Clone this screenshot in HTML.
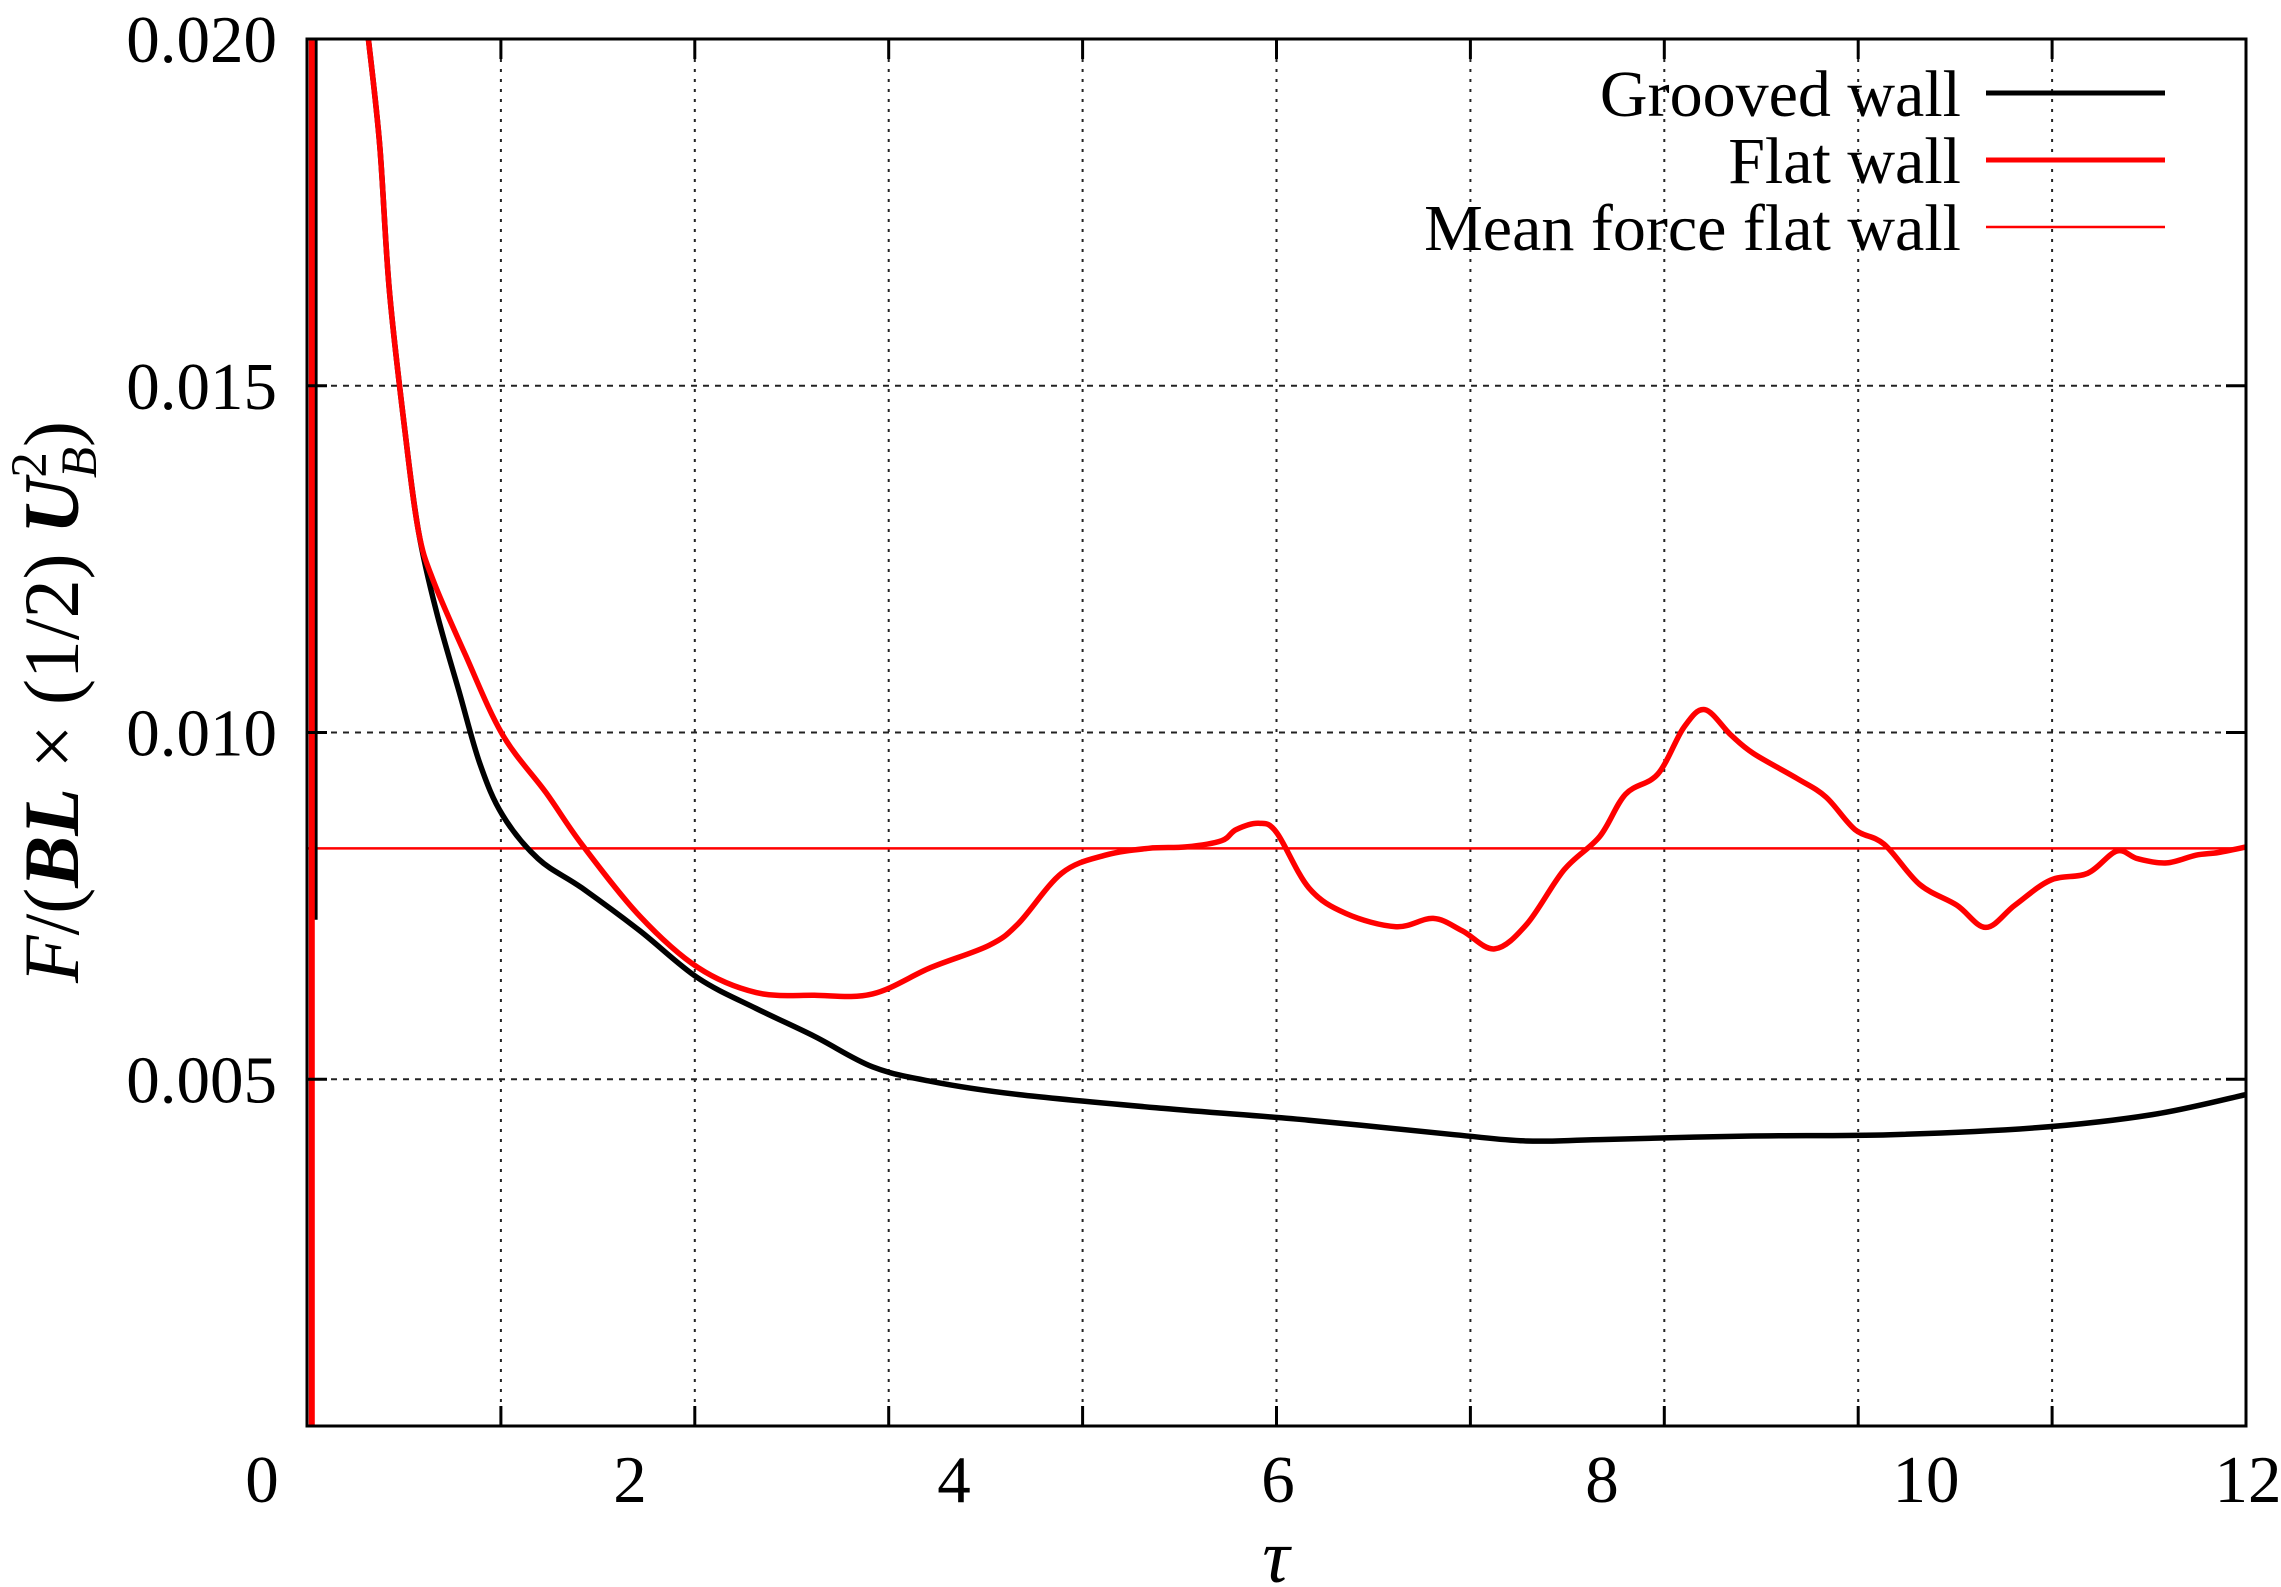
<!DOCTYPE html>
<html><head><meta charset="utf-8"><style>
html,body{margin:0;padding:0;background:#fff;}
svg{display:block;font-family:"Liberation Serif",serif;}
</style></head><body>
<svg id="chart" width="2281" height="1587" viewBox="0 0 2281 1587" xmlns="http://www.w3.org/2000/svg">
<defs><clipPath id="clip"><rect x="307" y="39" width="1939" height="1387"/></clipPath></defs>
<g id="grid"></g>
<g id="series" clip-path="url(#clip)"></g>
<rect x="307" y="39" width="1939" height="1387" fill="none" stroke="#000" stroke-width="3"/>
<g id="ticks"></g>
<g id="labels" font-size="67"></g>
<text x="1276" y="1582" font-size="76" font-style="italic" text-anchor="middle">τ</text>
<text transform="translate(78,702) rotate(-90)" font-size="78" text-anchor="middle"><tspan font-style="italic">F</tspan>/(<tspan font-style="italic" font-weight="bold">BL</tspan> × (1/2) <tspan font-style="italic" font-weight="bold">U</tspan><tspan font-size="51" dy="-32">2</tspan><tspan font-size="51" font-style="italic" dx="-26" dy="50">B</tspan><tspan dy="-18">)</tspan></text>
<g font-size="66">
<text x="1961" y="116" text-anchor="end">Grooved wall</text>
<line x1="1986" y1="93" x2="2165" y2="93" stroke="#000" stroke-width="5"/>
<text x="1961" y="183" text-anchor="end">Flat wall</text>
<line x1="1986" y1="160" x2="2165" y2="160" stroke="#f00" stroke-width="5"/>
<text x="1961" y="250" text-anchor="end">Mean force flat wall</text>
<line x1="1986" y1="227" x2="2165" y2="227" stroke="#f00" stroke-width="2.5"/>
</g>
</svg>
<script>
const xGrid=[1.2,2.4,3.6,4.8,6.0,7.2,8.4,9.6,10.8];
const yGrid=[0.005,0.010,0.015];
const yTickLabels=["0.005","0.010","0.015","0.020"];
const yTickVals=[0.005,0.010,0.015,0.020];
const xTickLabels=["0","2","4","6","8","10","12"];
const xLabelPos=[262,630,954,1278,1602,1926,2248];
const meanForce=0.00833;
const flatX=[0.38,0.45,0.51,0.61,0.69,0.78,0.98,1.21,1.48,1.70,2.06,2.42,2.78,3.14,3.50,3.86,4.22,4.40,4.67,4.94,5.21,5.44,5.66,5.75,5.89,6.0,6.2,6.43,6.74,6.97,7.15,7.35,7.55,7.78,8.0,8.16,8.36,8.52,8.65,8.81,8.95,9.22,9.40,9.58,9.76,9.98,10.21,10.39,10.57,10.79,11.02,11.2,11.33,11.51,11.69,11.83,12.0];
const flatY=[0.0200,0.01847,0.01637,0.01427,0.0129,0.0122,0.01112,0.00997,0.00913,0.00839,0.00735,0.00661,0.00625,0.00621,0.00623,0.00661,0.00693,0.00724,0.00797,0.00823,0.00833,0.00835,0.00844,0.0086,0.00869,0.00856,0.00776,0.00739,0.0072,0.00732,0.00714,0.00688,0.00724,0.00802,0.0085,0.00911,0.0094,0.01007,0.01033,0.00997,0.0097,0.00934,0.00907,0.0086,0.00839,0.00781,0.00751,0.00719,0.00751,0.00787,0.00797,0.00829,0.00818,0.00812,0.00823,0.00827,0.00835];
const groovedX=[0.38,0.45,0.51,0.61,0.69,0.80,0.94,1.07,1.21,1.43,1.70,2.06,2.42,2.78,3.14,3.5,3.86,4.40,5.30,6.2,7.1,7.55,8.0,8.9,9.8,10.7,11.42,12.0];
const groovedY=[0.0200,0.01847,0.01637,0.01427,0.0129,0.01175,0.0106,0.00955,0.00881,0.00818,0.00776,0.00714,0.00646,0.00602,0.00562,0.00518,0.00497,0.00478,0.00458,0.00441,0.0042,0.00411,0.00413,0.00418,0.0042,0.0043,0.00449,0.00478];
const spikeFlatX=[0.03,0.03];
const spikeFlatY=[0,0.03];
const spikeGroovedX=[0.05,0.05];
const spikeGroovedY=[0.0073,0.03];

const L=307,R=2246,T=39,B=1426,XMAX=12,YMAX=0.02;
const sx=v=>L+(R-L)*v/XMAX;
const sy=v=>B-(B-T)*v/YMAX;
const NS="http://www.w3.org/2000/svg";
function mk(tag,attrs,parent){const e=document.createElementNS(NS,tag);for(const k in attrs)e.setAttribute(k,attrs[k]);parent.appendChild(e);return e;}
const grid=document.getElementById('grid'),ticks=document.getElementById('ticks'),labels=document.getElementById('labels'),series=document.getElementById('series');
xGrid.forEach(v=>{
  const g=mk('line',{x1:sx(v),x2:sx(v),y1:T,y2:B,stroke:'#222','stroke-width':2,'stroke-dasharray':'3,7'},grid);
  
  
  const t1=mk('line',{x1:sx(v),x2:sx(v),y1:B,y2:B-20,stroke:'#000','stroke-width':3},ticks);
  
  
  const t2=mk('line',{x1:sx(v),x2:sx(v),y1:T,y2:T+20,stroke:'#000','stroke-width':3},ticks);
  
  
});
yGrid.forEach(v=>{
  const g=mk('line',{x1:L,x2:R,y1:sy(v),y2:sy(v),stroke:'#222','stroke-width':2,'stroke-dasharray':'6,6'},grid);
  
  
  const t1=mk('line',{x1:L,x2:L+20,y1:sy(v),y2:sy(v),stroke:'#000','stroke-width':3},ticks);
  
  
  const t2=mk('line',{x1:R,x2:R-20,y1:sy(v),y2:sy(v),stroke:'#000','stroke-width':3},ticks);
  
  
});
yTickVals.forEach((v,i)=>{
  const t=mk('text',{x:277,y:sy(v)+23,'text-anchor':'end'},labels);
  t.textContent=yTickLabels[i];
  
  
});
xTickLabels.forEach((s,i)=>{
  const t=mk('text',{x:xLabelPos[i],y:1502,'text-anchor':'middle'},labels);
  t.textContent=s;
  
  
});
const m=mk('line',{x1:L,x2:R,y1:sy(meanForce),y2:sy(meanForce),stroke:'#f00','stroke-width':2.5},series);


function smooth(xs,ys){
  const p=xs.map((x,i)=>[sx(x),sy(ys[i])]);
  let d='M'+p[0][0].toFixed(1)+','+p[0][1].toFixed(1);
  for(let i=0;i<p.length-1;i++){
    const p0=p[Math.max(0,i-1)],p1=p[i],p2=p[i+1],p3=p[Math.min(p.length-1,i+2)];
    const c1=[p1[0]+(p2[0]-p0[0])/6,p1[1]+(p2[1]-p0[1])/6];
    const c2=[p2[0]-(p3[0]-p1[0])/6,p2[1]-(p3[1]-p1[1])/6];
    d+=' C'+c1[0].toFixed(1)+','+c1[1].toFixed(1)+' '+c2[0].toFixed(1)+','+c2[1].toFixed(1)+' '+p2[0].toFixed(1)+','+p2[1].toFixed(1);
  }
  return d;
}
function straight(xs,ys){return xs.map((x,i)=>(i?'L':'M')+sx(x).toFixed(1)+','+sy(ys[i]).toFixed(1)).join(' ');}
const gs=mk('path',{d:straight(spikeGroovedX,spikeGroovedY),fill:'none',stroke:'#000','stroke-width':5},series);


const gp=mk('path',{d:smooth(groovedX,groovedY),fill:'none',stroke:'#000','stroke-width':5.5,'stroke-linejoin':'round'},series);


const fs=mk('path',{d:straight(spikeFlatX,spikeFlatY),fill:'none',stroke:'#f00','stroke-width':6},series);


const fp=mk('path',{d:smooth(flatX,flatY),fill:'none',stroke:'#f00','stroke-width':5.5,'stroke-linejoin':'round'},series);


</script>
</body></html>
